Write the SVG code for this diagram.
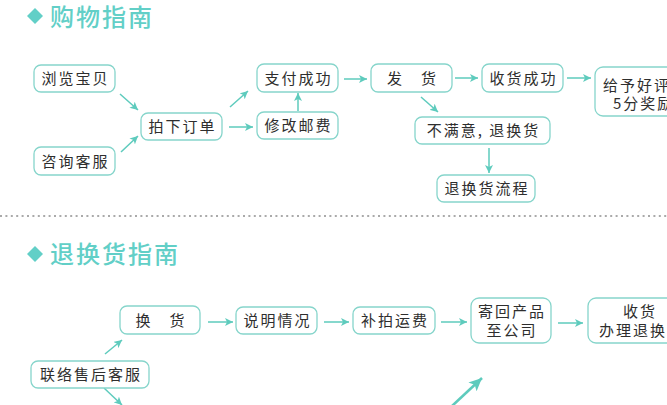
<svg xmlns="http://www.w3.org/2000/svg" width="667" height="405" viewBox="0 0 667 405">
<style>
.bg{fill:#ffffff}
.box{fill:#ffffff;stroke:#86d5cb;stroke-width:1.3}
.t{font-family:"Noto Sans CJK SC","Liberation Sans",sans-serif;font-size:15px;fill:#2e2e2e;letter-spacing:2px;text-anchor:middle}
.ts{font-family:"Noto Sans CJK SC","Liberation Sans",sans-serif;font-size:15px;fill:#2e2e2e;letter-spacing:2px}
.title{font-family:"Noto Sans CJK SC","Liberation Sans",sans-serif;font-size:24px;font-weight:500;fill:#62cfc7;letter-spacing:2px}
.dia{fill:#62cfc7}
.arr{stroke:#5ecbbd;stroke-width:1.5;fill:none;marker-end:url(#ah)}
.big{stroke:#5ecbbd;stroke-width:2.6;fill:none;marker-end:url(#ahb)}
.dots{stroke:#aaaaaa;stroke-width:2;stroke-dasharray:2 3.4}
</style>
<defs>
<marker id="ah" markerUnits="userSpaceOnUse" markerWidth="9" markerHeight="8" refX="8" refY="4" orient="auto">
<path d="M0,0 L8,4 L0,8 L2,4 Z" fill="#5ecbbd"/>
</marker>
<marker id="ahb" markerUnits="userSpaceOnUse" markerWidth="14" markerHeight="12" refX="13" refY="6" orient="auto">
<path d="M0,0 L13,6 L0,12 L3,6 Z" fill="#5ecbbd"/>
</marker>
</defs>
<rect class="bg" x="0" y="0" width="667" height="405"/>

<g id="title1">
<polygon class="dia" points="35,8 43,16 35,24 27,16"/>
<text class="title" x="50" y="26">购物指南</text>
</g>
<line id="divider" class="dots" x1="0" y1="216" x2="667" y2="216"/>
<g id="title2">
<polygon class="dia" points="35,246 43,254 35,262 27,254"/>
<text class="title" x="50" y="263">退换货指南</text>
</g>

<g id="connectors">
<line class="arr" x1="120" y1="94" x2="138" y2="110"/>
<line class="arr" x1="121" y1="152" x2="138" y2="136"/>
<line class="arr" x1="230" y1="107" x2="248" y2="91"/>
<line class="arr" x1="229" y1="127" x2="253" y2="127"/>
<line class="arr" x1="298" y1="111" x2="298" y2="93"/>
<line class="arr" x1="344" y1="79" x2="367" y2="79"/>
<line class="arr" x1="455" y1="78" x2="478" y2="78"/>
<line class="arr" x1="567" y1="78" x2="591" y2="78"/>
<line class="arr" x1="421" y1="97" x2="438" y2="112"/>
<line class="arr" x1="489" y1="148" x2="489" y2="173"/>
<line class="arr" x1="105" y1="354" x2="122" y2="340"/>
<line class="arr" x1="104" y1="388" x2="122" y2="405"/>
<line class="arr" x1="208" y1="322" x2="233" y2="322"/>
<line class="arr" x1="324" y1="322" x2="349" y2="322"/>
<line class="arr" x1="441" y1="322" x2="467" y2="322"/>
<line class="arr" x1="558" y1="323" x2="583" y2="323"/>
<line class="big" x1="452" y1="406" x2="482" y2="378"/>
</g>

<g id="n_browse"><rect class="box" x="34" y="65" width="81" height="27" rx="7"/><text class="t" x="75.5" y="84">浏览宝贝</text></g>
<g id="n_consult"><rect class="box" x="34" y="147" width="81" height="28" rx="7"/><text class="t" x="75.5" y="166.5">咨询客服</text></g>
<g id="n_order"><rect class="box" x="141" y="113" width="81" height="27" rx="7"/><text class="t" x="182.5" y="132">拍下订单</text></g>
<g id="n_pay"><rect class="box" x="257" y="64" width="81" height="28" rx="7"/><text class="t" x="298.5" y="83.5">支付成功</text></g>
<g id="n_postage"><rect class="box" x="257" y="112" width="81" height="27" rx="7"/><text class="t" x="298.5" y="131">修改邮费</text></g>
<g id="n_ship"><rect class="box" x="371" y="64" width="81" height="28" rx="7"/><text class="t" x="412.5" y="83.5">发　货</text></g>
<g id="n_received"><rect class="box" x="482" y="64" width="81" height="28" rx="7"/><text class="t" x="523.5" y="83.5">收货成功</text></g>
<g id="n_review"><rect class="box" x="595" y="67" width="95" height="49" rx="8"/><text class="ts" x="603" y="91">给予好评</text><text class="ts" x="613" y="109">5分奖励</text></g>
<g id="n_unhappy"><rect class="box" x="415" y="117" width="135" height="27" rx="7"/><text class="t" x="483.5" y="136">不满意, 退换货</text></g>
<g id="n_process"><rect class="box" x="437" y="175" width="98" height="27" rx="7"/><text class="t" x="487" y="194">退换货流程</text></g>

<g id="n_exchange"><rect class="box" x="120" y="306" width="80" height="28" rx="7"/><text class="t" x="161" y="325.5">换　货</text></g>
<g id="n_explain"><rect class="box" x="236" y="307" width="81" height="27" rx="7"/><text class="t" x="277.5" y="326">说明情况</text></g>
<g id="n_fee"><rect class="box" x="353" y="307" width="82" height="27" rx="7"/><text class="t" x="395" y="326">补拍运费</text></g>
<g id="n_return"><rect class="box" x="471" y="298" width="80" height="45" rx="8"/><text class="t" x="512" y="317">寄回产品</text><text class="t" x="512" y="336">至公司</text></g>
<g id="n_handle"><rect class="box" x="588" y="298" width="100" height="45" rx="8"/><text class="ts" x="623" y="317">收货</text><text class="ts" x="599" y="336">办理退换</text></g>
<g id="n_contact"><rect class="box" x="31" y="361" width="118" height="27" rx="7"/><text class="t" x="91" y="380">联络售后客服</text></g>
</svg>
